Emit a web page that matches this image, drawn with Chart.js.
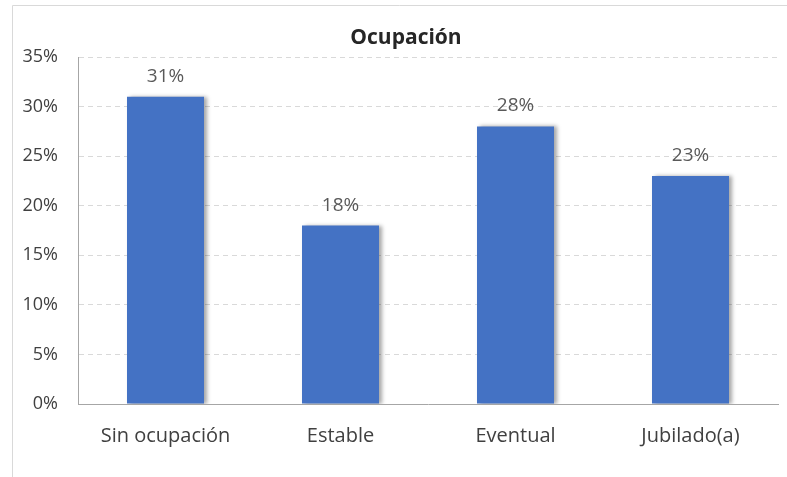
<!DOCTYPE html>
<html>
<head>
<meta charset="utf-8">
<script src="https://cdn.jsdelivr.net/npm/chart.js@4"></script>
<style>
  html, body { margin: 0; padding: 0; background: #fff; }
  #wrap { width: 787px; height: 477px; position: relative; }
</style>
</head>
<body>
<div id="wrap"><canvas id="chart" width="787" height="477"></canvas></div>
<script>
var categories = ['Sin ocupación', 'Estable', 'Eventual', 'Jubilado(a)'];
var values = [31, 18, 28, 23];
var yTicks = [0, 5, 10, 15, 20, 25, 30, 35];
var chartTitle = 'Ocupación';

var FONT = '"Open Sans", "Noto Sans", sans-serif';

// border of the picture, bar shadows, title and value labels
var decor = {
    id: 'decor',
    beforeDraw: function (chart) {
        var ctx = chart.ctx;
        ctx.save();
        ctx.strokeStyle = '#d9d9d9';
        ctx.lineWidth = 1;
        ctx.beginPath();
        ctx.moveTo(12.5, chart.height);
        ctx.lineTo(12.5, 5.5);
        ctx.lineTo(chart.width, 5.5);
        ctx.stroke();
        ctx.restore();
    },
    beforeDatasetsDraw: function (chart) {
        var ctx = chart.ctx;
        ctx.save();
        ctx.shadowColor = 'rgba(0,0,0,0.35)';
        ctx.shadowBlur = 4;
        ctx.shadowOffsetX = 3;
        ctx.shadowOffsetY = 0;
    },
    afterDatasetsDraw: function (chart) {
        var ctx = chart.ctx;
        ctx.restore();
        var meta = chart.getDatasetMeta(0);
        ctx.save();
        ctx.font = '19px ' + FONT;
        ctx.fillStyle = '#595959';
        ctx.textAlign = 'center';
        ctx.textBaseline = 'alphabetic';
        meta.data.forEach(function (bar, i) {
            ctx.fillText(values[i] + '%', bar.x, bar.y - 15);
        });
        ctx.font = 'bold 21px ' + FONT;
        ctx.fillStyle = '#262626';
        ctx.textBaseline = 'middle';
        ctx.fillText(chartTitle, 406, 38);
        ctx.restore();
    }
};

new Chart(document.getElementById('chart'), {
    type: 'bar',
    data: {
        labels: categories,
        datasets: [{
            data: values,
            backgroundColor: '#4472C4',
            borderWidth: 0,
            categoryPercentage: 1,
            barPercentage: 0.44
        }]
    },
    options: {
        responsive: false,
        animation: false,
        layout: { padding: { top: 57, right: 9, bottom: 9, left: 0 } },
        plugins: {
            legend: { display: false },
            title: { display: false },
            tooltip: { enabled: false }
        },
        scales: {
            x: {
                grid: { display: false, drawTicks: false },
                border: { display: true, color: '#a6a6a6' },
                ticks: { color: '#404040', padding: 20, font: { family: FONT, size: 20 }, maxRotation: 0 }
            },
            y: {
                min: 0,
                max: 35,
                afterBuildTicks: function (scale) {
                    scale.ticks = yTicks.map(function (v) { return { value: v }; });
                },
                afterFit: function (scale) { scale.width = 78; },
                grid: { color: '#d9d9d9', drawTicks: false },
                border: { display: true, color: '#a6a6a6', dash: [5, 4] },
                ticks: {
                    color: '#404040',
                    padding: 20,
                    font: { family: FONT, size: 18 },
                    callback: function (v) { return v + '%'; }
                }
            }
        }
    },
    plugins: [decor]
});
</script>
</body>
</html>
